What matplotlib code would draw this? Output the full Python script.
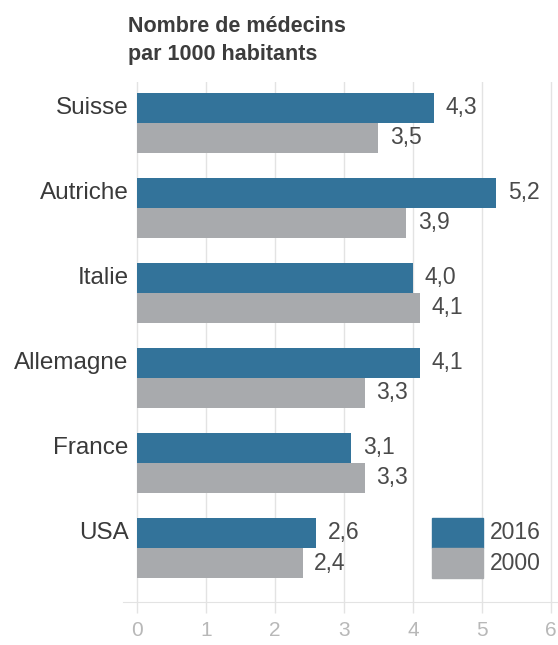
import numpy as np
import matplotlib.pyplot as plt
from matplotlib.patches import Rectangle

plt.rcParams['font.family'] = ['Liberation Sans', 'DejaVu Sans']

countries = ['Suisse', 'Autriche', 'Italie', 'Allemagne', 'France', 'USA']
val_2016 = [4.3, 5.2, 4.0, 4.1, 3.1, 2.6]
val_2000 = [3.5, 3.9, 4.1, 3.3, 3.3, 2.4]
years = ['2016', '2000']
ticks = [0, 1, 2, 3, 4, 5, 6]

blue = '#33739a'
grey = '#a8aaad'
grid_col = '#e3e3e3'

fig = plt.figure(figsize=(5.58, 6.45), dpi=100)
ax = fig.add_axes([123 / 558, 43 / 645, 435 / 558, 520 / 645])

y = np.arange(len(countries))
h = 30 / 85
ax.barh(y - h / 2, val_2016, height=h, color=blue, zorder=2)
ax.barh(y + h / 2, val_2000, height=h, color=grey, zorder=2)

for yi, v in zip(y, val_2016):
    ax.annotate(f'{v:.1f}'.replace('.', ','), (v, yi - h / 2), xytext=(8.5, 0),
                textcoords='offset points', va='center', ha='left',
                fontsize=16.5, color='#4a4a4a')
for yi, v in zip(y, val_2000):
    ax.annotate(f'{v:.1f}'.replace('.', ','), (v, yi + h / 2), xytext=(8.5, 0),
                textcoords='offset points', va='center', ha='left',
                fontsize=16.5, color='#4a4a4a')

# country names sit next to the 2016 bar
for yi, c in zip(y, countries):
    ax.text(-0.12, yi - h / 2, c, ha='right', va='center', fontsize=17.5,
            color='#3a3a3a')

# legend, drawn in the USA row
ly = len(countries) - 1
for k, (lab, col) in enumerate(zip(years, [blue, grey])):
    yc = ly - h / 2 + k * h
    ax.add_patch(Rectangle((4.28, yc - h / 2), 0.73, h, color=col, zorder=2))
    ax.text(5.12, yc, lab, ha='left', va='center', fontsize=16.5, color='#4a4a4a')

ax.set_xlim(-0.2, 6.1)
ax.set_ylim(5.635, -0.48)
ax.set_xticks(ticks)
ax.set_xticklabels([str(t) for t in ticks])
ax.set_yticks([])
ax.grid(axis='x', color=grid_col, lw=1, zorder=0)
for s in ['top', 'right', 'left']:
    ax.spines[s].set_visible(False)
ax.spines['bottom'].set_color(grid_col)
ax.tick_params(axis='x', length=8, width=1, color=grid_col, pad=5.5,
               labelsize=15, labelcolor='#b8b8b8')

fig.text(128 / 558, 1 - 32 / 645, 'Nombre de médecins', ha='left',
         va='baseline', fontsize=15.5, fontweight='bold', color='#3c3c3c')
fig.text(128 / 558, 1 - 60 / 645, 'par 1000 habitants', ha='left',
         va='baseline', fontsize=15.5, fontweight='bold', color='#3c3c3c')

fig.savefig('out.png', dpi=100)
